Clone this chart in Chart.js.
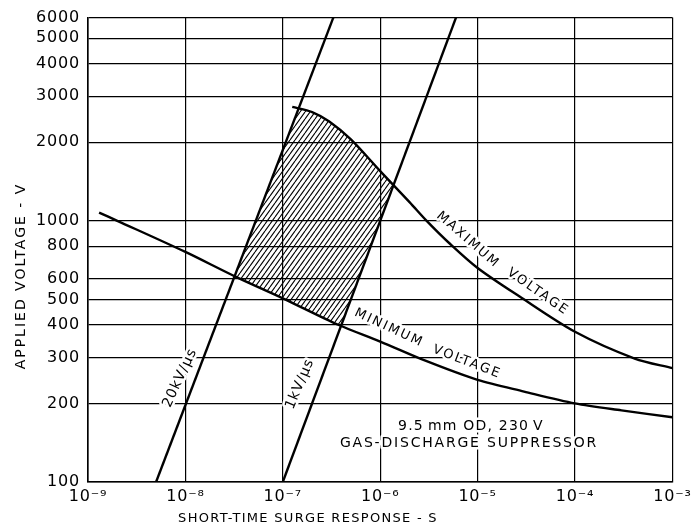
<!DOCTYPE html>
<html>
<head>
<meta charset="utf-8">
<script src="https://cdn.jsdelivr.net/npm/chart.js@4.4.1/dist/chart.umd.min.js"></script>
<style>
  body { margin: 0; background: #fff; }
  canvas { display: block; }
</style>
</head>
<body>
<canvas id="surge" width="695" height="529"></canvas>
<script>
// axis ticks
const xTicks = [1e-9, 1e-8, 1e-7, 1e-6, 1e-5, 1e-4, 1e-3];
const xTickLabels = ['10⁻⁹', '10⁻⁸', '10⁻⁷', '10⁻⁶', '10⁻⁵', '10⁻⁴', '10⁻³'];
const yTicks = [100, 200, 300, 400, 500, 600, 800, 1000, 2000, 3000, 4000, 5000, 6000];

// rate-of-rise lines (time s, voltage V)
const fastT = [5e-9, 3.3e-7];
const fastV = [100, 6000];
const slowT = [1e-7, 6e-6];
const slowV = [100, 6000];

// maximum voltage curve
const maxT = [1.25e-7, 2e-7, 3e-7, 5e-7, 1e-6, 2e-6, 3e-6, 5.2e-6, 1e-5, 2.7e-5, 1e-4, 4.1e-4, 1e-3];
const maxV = [2730, 2610, 2400, 2050, 1550, 1180, 1000, 817, 660, 513, 376, 297, 273];

// minimum voltage curve
const minT = [1.3e-9, 2e-9, 1e-8, 3.3e-8, 1e-7, 3.7e-7, 1e-6, 3e-6, 1e-5, 3e-5, 1e-4, 3e-4, 1e-3];
const minV = [1075, 1000, 760, 610, 505, 400, 345, 290, 246, 222, 200, 188, 177];

const FONT = 'DejaVu Sans';

function pts(ts, vs) {
    return ts.map((t, i) => ({ x: t, y: vs[i] }));
}

// intersection of two polylines, worked out in log-log space
function crossing(a, b) {
    const la = a.map(p => [Math.log10(p.x), Math.log10(p.y)]);
    const lb = b.map(p => [Math.log10(p.x), Math.log10(p.y)]);
    for (let i = 0; i < la.length - 1; i++) {
        for (let j = 0; j < lb.length - 1; j++) {
            const [x1, y1] = la[i], [x2, y2] = la[i + 1], [x3, y3] = lb[j], [x4, y4] = lb[j + 1];
            const d = (x1 - x2) * (y3 - y4) - (y1 - y2) * (x3 - x4);
            if (!d) continue;
            const u = ((x1 - x3) * (y3 - y4) - (y1 - y3) * (x3 - x4)) / d;
            const w = -((x1 - x2) * (y1 - y3) - (y1 - y2) * (x1 - x3)) / d;
            if (u >= 0 && u <= 1 && w >= 0 && w <= 1) {
                return { x: Math.pow(10, x1 + u * (x2 - x1)), y: Math.pow(10, y1 + u * (y2 - y1)) };
            }
        }
    }
}

const fastPts = pts(fastT, fastV);
const slowPts = pts(slowT, slowV);
const maxPts = pts(maxT, maxV);
const minPts = pts(minT, minV);

// hatched operating region
const bl = crossing(fastPts, minPts);
const tl = crossing(fastPts, maxPts);
const tr = crossing(slowPts, maxPts);
const br = crossing(slowPts, minPts);
const region = [bl, tl];
maxPts.forEach(p => { if (p.x > tl.x && p.x < tr.x) region.push(p); });
region.push(tr, br);
for (let i = minPts.length - 1; i >= 0; i--) {
    if (minPts[i].x < br.x && minPts[i].x > bl.x) region.push(minPts[i]);
}

function hatchPattern() {
    const c = document.createElement('canvas');
    c.width = 5; c.height = 7;
    const g = c.getContext('2d');
    g.strokeStyle = '#000';
    g.lineWidth = 1.1;
    g.beginPath();
    for (let k = -1; k <= 1; k++) {
        g.moveTo(k * 5, 7);
        g.lineTo(k * 5 + 5, 0);
    }
    g.stroke();
    return g.createPattern(c, 'repeat');
}

function label(ctx, text, x, y, angle, size, spacing) {
    ctx.save();
    ctx.translate(x, y);
    ctx.rotate(angle * Math.PI / 180);
    ctx.font = size + 'px "' + FONT + '"';
    ctx.letterSpacing = spacing + 'px';
    ctx.textAlign = 'center';
    ctx.textBaseline = 'middle';
    ctx.lineJoin = 'round';
    ctx.strokeStyle = '#fff';
    ctx.lineWidth = 5;
    ctx.strokeText(text, 0, 0);
    ctx.fillStyle = '#000';
    ctx.fillText(text, 0, 0);
    ctx.restore();
}

const annotations = {
    id: 'annotations',
    beforeDraw(chart) {
        chart.ctx.letterSpacing = '0.8px';
    },
    beforeDatasetsDraw(chart) {
        const ctx = chart.ctx;
        label(ctx, '20kV/µs', 180, 378, -65, 14, 1);
        label(ctx, '1kV/µs', 300, 384, -67, 14, 1);
        label(ctx, 'MAXIMUM', 468, 240, 41, 13, 2);
        label(ctx, 'VOLTAGE', 538, 292, 35, 13, 2);
        label(ctx, 'MINIMUM', 389, 328, 25, 13, 2);
        label(ctx, 'VOLTAGE', 467, 362, 21, 13, 2);
        label(ctx, '9.5\u2009mm OD, 230\u2009V', 471, 426, 0, 14, 1.2);
        label(ctx, 'GAS-DISCHARGE SUPPRESSOR', 469, 443, 0, 14, 1.8);
    },
    afterDraw(chart) {
        const ctx = chart.ctx;
        ctx.save();
        ctx.fillStyle = '#000';
        ctx.textAlign = 'center';
        ctx.textBaseline = 'middle';
        ctx.font = '13px "' + FONT + '"';
        ctx.letterSpacing = '1.3px';
        ctx.fillText('SHORT-TIME SURGE RESPONSE - S', 308, 519);
        ctx.font = '14px "' + FONT + '"';
        ctx.letterSpacing = '2px';
        ctx.translate(21, 276);
        ctx.rotate(-Math.PI / 2);
        ctx.fillText('APPLIED VOLTAGE - V', 0, 0);
        ctx.restore();
    }
};

const curve = (data, tension) => ({
    data: data,
    showLine: true,
    borderColor: '#000',
    borderWidth: 2.4,
    pointRadius: 0,
    fill: false,
    tension: tension,
    order: 1
});

new Chart(document.getElementById('surge'), {
    type: 'scatter',
    data: {
        datasets: [
            curve(fastPts, 0),
            curve(slowPts, 0),
            curve(maxPts, 0.3),
            curve(minPts, 0.3),
            {
                data: region,
                showLine: true,
                borderColor: 'rgba(0,0,0,0)',
                borderWidth: 0,
                pointRadius: 0,
                backgroundColor: hatchPattern(),
                fill: 'shape',
                order: 10
            }
        ]
    },
    options: {
        responsive: false,
        animation: false,
        layout: { padding: { left: 0, right: 17, top: 15, bottom: 0 } },
        plugins: { legend: { display: false }, tooltip: { enabled: false } },
        scales: {
            x: {
                type: 'logarithmic',
                min: 1e-9,
                max: 1e-3,
                afterBuildTicks: s => { s.ticks = xTicks.map(v => ({ value: v })); },
                afterFit: s => { s.height = 47; },
                grid: { color: '#000', lineWidth: 1.2, drawTicks: false },
                border: { color: '#000', width: 1.6 },
                ticks: {
                    color: '#000',
                    font: { family: FONT, size: 16 },
                    padding: 5,
                    maxRotation: 0,
                    autoSkip: false,
                    callback: (v, i) => xTickLabels[i]
                }
            },
            y: {
                type: 'logarithmic',
                min: 100,
                max: 6000,
                afterBuildTicks: s => { s.ticks = yTicks.map(v => ({ value: v })); },
                afterFit: s => { s.width = 88; },
                grid: { color: '#000', lineWidth: 1.2, drawTicks: false },
                border: { color: '#000', width: 1.6 },
                ticks: {
                    color: '#000',
                    font: { family: FONT, size: 16 },
                    padding: 8,
                    autoSkip: false,
                    callback: v => String(v)
                }
            }
        }
    },
    plugins: [annotations]
});
</script>
</body>
</html>
